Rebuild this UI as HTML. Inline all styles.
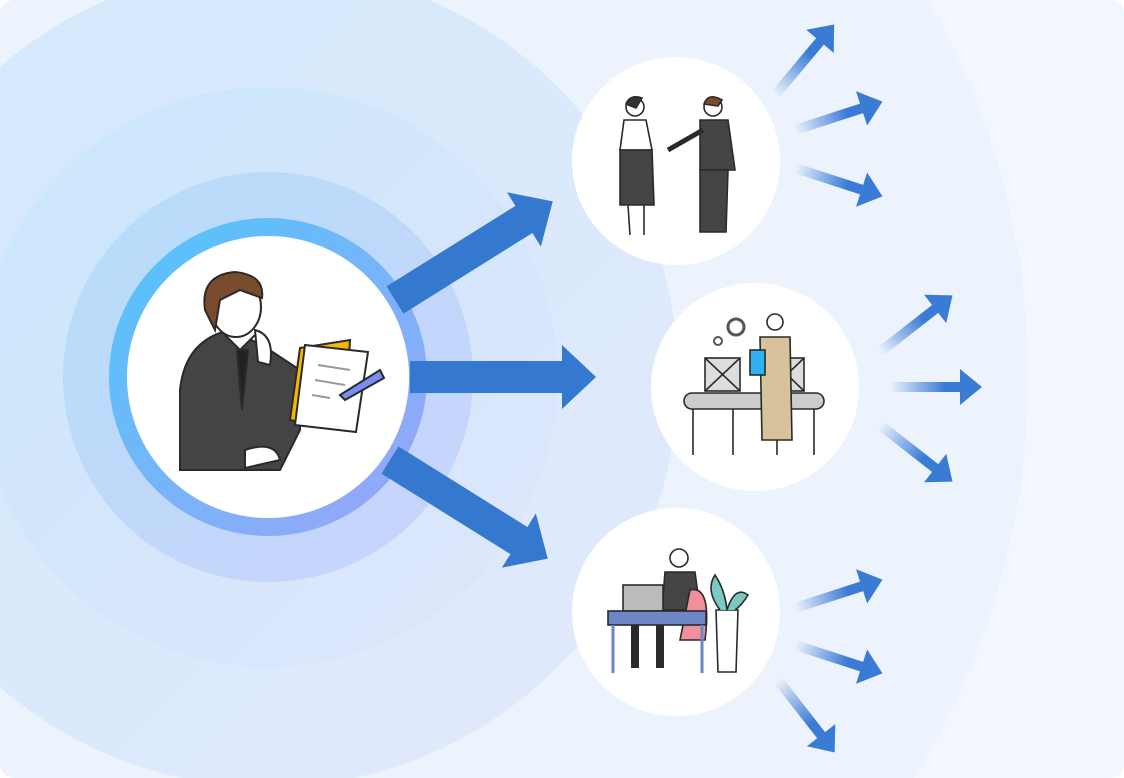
<!DOCTYPE html>
<html><head><meta charset="utf-8"><style>
html,body{margin:0;padding:0;background:#fff;width:1124px;height:778px;overflow:hidden}
svg{display:block}
</style></head><body>
<svg width="1124" height="778" viewBox="0 0 1124 778" xmlns="http://www.w3.org/2000/svg">
<defs>
<clipPath id="c"><rect x="0" y="0" width="1124" height="778" rx="14"/></clipPath>
<linearGradient id="r1" x1="0" y1="0" x2="1" y2="1"><stop offset="0" stop-color="#c9e6fb"/><stop offset="1" stop-color="#dfe6fb"/></linearGradient>
<linearGradient id="r2" x1="0" y1="0" x2="1" y2="1"><stop offset="0" stop-color="#b6ddfa"/><stop offset="1" stop-color="#c9d3fb"/></linearGradient>
<linearGradient id="r3" x1="0" y1="0" x2="1" y2="1"><stop offset="0" stop-color="#9ed6fb"/><stop offset="1" stop-color="#b8c2fb"/></linearGradient>
<linearGradient id="r4" x1="0" y1="0" x2="1" y2="1"><stop offset="0" stop-color="#52c5fa"/><stop offset="1" stop-color="#9aa4f8"/></linearGradient>
<linearGradient id="fa" x1="0" y1="0" x2="1" y2="0"><stop offset="0" stop-color="#3a7bd5" stop-opacity="0"/><stop offset="0.6" stop-color="#3a7bd5"/><stop offset="1" stop-color="#3a7bd5"/></linearGradient>
<g id="sa"><path d="M0,-5 L70,-5 L70,-18 L92,0 L70,18 L70,5 L0,5Z" fill="url(#fa)"/></g>
<g id="ba"><path d="M0,-16 L152,-16 L152,-32 L186,0 L152,32 L152,16 L0,16Z" fill="#3479cf"/></g>
</defs>
<g clip-path="url(#c)">
<rect width="1124" height="778" fill="#f2f6fe"/>
<circle cx="268" cy="377" r="760" fill="#edf3fd"/>
<circle cx="268" cy="377" r="410" fill="url(#r1)" opacity="0.75"/>
<circle cx="268" cy="377" r="290" fill="url(#r1)"/>
<circle cx="268" cy="377" r="205" fill="url(#r2)"/>
<circle cx="268" cy="377" r="158" fill="url(#r3)"/>
<circle cx="268" cy="377" r="150" fill="none" stroke="url(#r4)" stroke-width="18"/>
<circle cx="268" cy="377" r="141" fill="#fff"/>
<use href="#ba" transform="translate(395,300) rotate(-32)"/>
<use href="#ba" transform="translate(410,377)"/>
<use href="#ba" transform="translate(390,460) rotate(32)"/>
<use href="#sa" transform="translate(775,95) rotate(-50)"/>
<use href="#sa" transform="translate(795,130) rotate(-18)"/>
<use href="#sa" transform="translate(795,168) rotate(18)"/>
<use href="#sa" transform="translate(880,352) rotate(-38)"/>
<use href="#sa" transform="translate(890,387)"/>
<use href="#sa" transform="translate(880,425) rotate(38)"/>
<use href="#sa" transform="translate(795,608) rotate(-18)"/>
<use href="#sa" transform="translate(795,645) rotate(18)"/>
<use href="#sa" transform="translate(778,680) rotate(52)"/>
<circle cx="676" cy="161" r="104" fill="#fff"/>
<circle cx="755" cy="387" r="104" fill="#fff"/>
<circle cx="676" cy="612" r="104" fill="#fff"/>
<g stroke="#2a2a2a" stroke-width="2">
<path d="M180,470 L180,390 Q185,340 230,330 L262,345 L300,370 L300,430 L280,470Z" fill="#444"/>
<path d="M225,335 L240,350 L255,335" fill="#fff"/>
<path d="M237,350 L242,410 L248,350Z" fill="#222"/>
<ellipse cx="236" cy="307" rx="25" ry="30" fill="#fff"/>
<path d="M205,310 Q200,275 235,272 Q265,275 262,298 L240,290 L220,300 L215,330Z" fill="#7a4a2c"/>
<path d="M255,330 Q275,335 270,365 L258,362Z" fill="#fff"/>
<path d="M300,348 L350,340 L345,430 L290,420Z" fill="#f6b800"/>
<path d="M305,345 L368,352 L356,432 L295,425Z" fill="#fff"/>
<path d="M340,395 L380,370 L384,378 L345,400Z" fill="#7b8cf4"/>
<path d="M245,450 Q275,440 280,460 L245,468Z" fill="#fff"/>
</g>
<g stroke="#999" stroke-width="2"><line x1="318" y1="365" x2="350" y2="370"/><line x1="315" y1="380" x2="345" y2="385"/><line x1="312" y1="395" x2="330" y2="398"/></g>
<g stroke="#2a2a2a" stroke-width="1.6">
<circle cx="635" cy="107" r="9" fill="#fff"/><path d="M626,104 Q630,94 642,98 L636,108Z" fill="#333"/>
<path d="M624,120 L646,120 L652,150 L620,150Z" fill="#fff"/>
<path d="M620,150 L652,150 L654,205 L620,205Z" fill="#444"/>
<path d="M628,205 L630,235 M644,205 L644,235"/>
<circle cx="713" cy="107" r="9" fill="#fff"/><path d="M704,104 Q708,92 722,100 L718,106Z" fill="#7a4a2c"/>
<path d="M700,120 L728,120 L735,170 L700,170Z" fill="#444"/>
<path d="M700,170 L728,170 L726,232 L700,232Z" fill="#444"/>
<path d="M703,130 L668,150" stroke-width="5"/>
</g>
<g stroke="#2a2a2a" stroke-width="1.6">
<rect x="705" y="358" width="35" height="33" fill="#ddd"/><path d="M705,358 L740,391 M740,358 L705,391"/>
<rect x="770" y="358" width="34" height="33" fill="#ddd"/><path d="M770,358 L804,391 M804,358 L770,391"/>
<rect x="684" y="393" width="140" height="16" rx="8" fill="#ccc"/>
<path d="M693,409 L693,455 M733,409 L733,455 M777,409 L777,455 M814,409 L814,455"/>
<circle cx="775" cy="322" r="8" fill="#fff"/>
<path d="M760,337 L790,337 L792,440 L762,440Z" fill="#d8c29c"/>
<rect x="750" y="350" width="15" height="25" fill="#2fb2f2"/>
<circle cx="736" cy="327" r="8" fill="none" stroke="#555" stroke-width="3"/>
<circle cx="718" cy="341" r="4" fill="none" stroke="#555" stroke-width="2"/>
</g>
<g stroke="#2a2a2a" stroke-width="1.6">
<circle cx="679" cy="558" r="9" fill="#fff"/>
<path d="M665,572 L695,572 L700,610 L662,610Z" fill="#444"/>
<rect x="623" y="585" width="40" height="26" fill="#bbb"/>
<path d="M690,590 Q712,585 705,640 L680,640Z" fill="#f28f9d"/>
<rect x="608" y="611" width="98" height="14" fill="#6d86c5"/>
<path d="M613,625 L613,673 M702,625 L702,673" stroke="#6d86c5" stroke-width="3"/>
<path d="M635,625 L635,668 M660,625 L660,668" stroke-width="8"/>
<path d="M716,610 L738,610 L736,672 L718,672Z" fill="#fff"/>
<path d="M720,610 Q705,590 715,575 Q725,590 727,610 Q735,585 748,595 Q742,605 735,610" fill="#7cc8c4"/>
</g>
</g>
</svg>
</body></html>
